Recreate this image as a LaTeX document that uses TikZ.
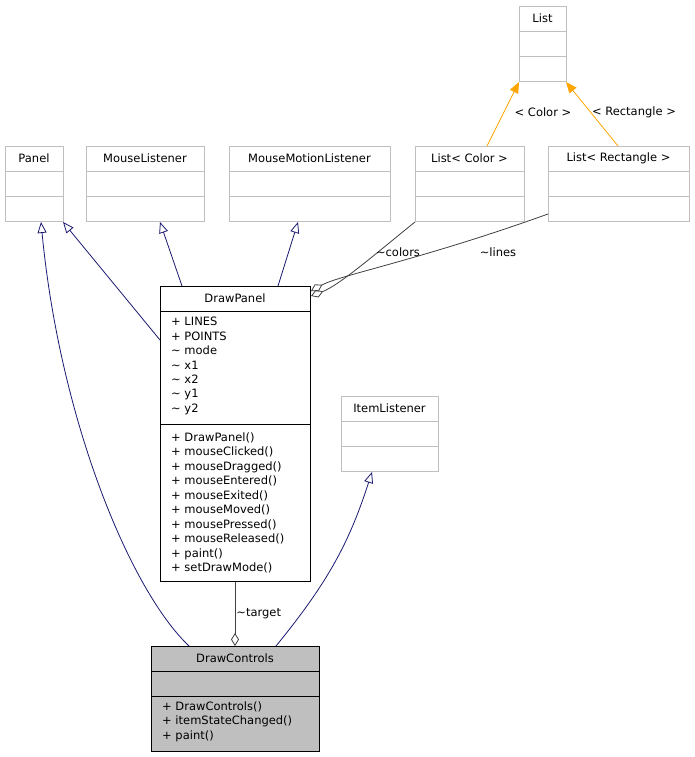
\documentclass[tikz,border=0pt]{standalone}
\usepackage{fontspec}
\setmainfont{DejaVu Sans}
\usetikzlibrary{arrows.meta}
\definecolor{navy}{RGB}{25,25,112}
\definecolor{boxgray}{RGB}{191,191,191}
\definecolor{linegray}{RGB}{191,191,191}
\definecolor{tmplorange}{RGB}{255,165,0}
\newcommand\classbox[7]{% name, x1, y1, x2, y2, title, style
  \node[box,#7,anchor=north west,minimum width={#4pt-#2pt},minimum height={#5pt-#3pt}] (#1) at (#2,#3) {};
  \node (#1-title) at ({(#2+#4)/2},#3+12.5) {#6};
}
\begin{document}
\begin{tikzpicture}[x=1pt,y=-1pt,font=\fontsize{11.5}{14.45}\selectfont,
    box/.style={draw=linegray,inner sep=0pt,line width=0.8pt},
    main/.style={draw=black},
    focus/.style={draw=black,fill=boxgray},
    members/.style={anchor=north west,align=left,inner sep=0pt},
    inherit/.style={draw=navy,line width=0.8pt,-{Triangle[open,length=11pt,width=9pt]}},
    bind/.style={draw=tmplorange,line width=0.8pt,-{Triangle[length=11pt,width=9pt]}},
    usage/.style={draw=black!75,line width=0.8pt,{Diamond[open,length=13pt,width=8pt]}-},
    lbl/.style={inner sep=1pt}
  ]
  \useasboundingbox (0,0) rectangle (695,757);
  % classes
  \classbox{list}{519}{6}{566}{81}{List}{}
  \classbox{panel}{5}{146}{63}{221}{Panel}{}
  \classbox{mouse}{86}{146}{204}{221}{MouseListener}{}
  \classbox{motion}{229}{146}{390}{221}{MouseMotionListener}{}
  \classbox{lcolor}{415}{146}{524}{221}{List< Color >}{}
  \classbox{lrect}{548}{146}{689}{221}{List< Rectangle >}{}
  \classbox{item}{341}{396}{438}{471}{ItemListener}{}
  \classbox{drawpanel}{160}{286}{310}{581}{DrawPanel}{main}
  \classbox{controls}{151}{646}{319}{751}{DrawControls}{focus}
  % compartments
  \foreach \n/\a/\b in {list/31/56,panel/171/196,mouse/171/196,motion/171/196,
      lcolor/171/196,lrect/171/196,item/421/446}
    \draw[linegray,line width=0.8pt] (\n.west|-0,\a) -- (\n.east|-0,\a)
      (\n.west|-0,\b) -- (\n.east|-0,\b);
  \draw (drawpanel.west|-0,311) -- (drawpanel.east|-0,311)
    (drawpanel.west|-0,424) -- (drawpanel.east|-0,424);
  \draw (controls.west|-0,671) -- (controls.east|-0,671)
    (controls.west|-0,696) -- (controls.east|-0,696);
  % members
  \node[members] (dp-attr) at (171,317) {+ LINES\\+ POINTS\\\textasciitilde{} mode\\\textasciitilde{} x1\\\textasciitilde{} x2\\\textasciitilde{} y1\\\textasciitilde{} y2};
  \node[members] (dp-ops) at (171,432.5) {+ DrawPanel()\\+ mouseClicked()\\+ mouseDragged()\\+ mouseEntered()\\+ mouseExited()\\+ mouseMoved()\\+ mousePressed()\\+ mouseReleased()\\+ paint()\\+ setDrawMode()};
  \node[members] (dc-ops) at (162,701.5) {+ DrawControls()\\+ itemStateChanged()\\+ paint()};
  % coordinates on the box borders
  \coordinate (dc-left) at (189,646);
  \coordinate (dc-right) at (276,646);
  \coordinate (dp-side) at (160,340);
  \coordinate (dp-top1) at (182,286);
  \coordinate (dp-top2) at (278,286);
  \coordinate (dp-c) at (311,296);
  \coordinate (dp-r) at (311,291);
  % inheritance
  \draw[inherit] (dc-left) .. controls (130,590) and (60,420) .. (41,222);
  \draw[inherit] (dp-side) -- (63,222);
  \draw[inherit] (dp-top1) -- (160,222);
  \draw[inherit] (dp-top2) -- (298,222);
  \draw[inherit] (dc-right) .. controls (330,580) and (350,540) .. (372,472);
  % associations
  \draw[usage] (235,646) -- (drawpanel.south-|235,0) node[lbl,midway,right] (target-lbl) {\textasciitilde target};
  \draw[usage] (dp-c) .. controls (340,285) and (380,250) .. (415,222);
  \node[lbl] (colors-lbl) at (398,252) {\textasciitilde colors};
  \draw[usage] (dp-r) .. controls (340,275) and (420,260) .. (548,214);
  \node[lbl] (lines-lbl) at (498,252) {\textasciitilde lines};
  % template bindings
  \draw[bind] (487,146) -- (519,82);
  \node[lbl] (color-bind) at (543,112) {< Color >};
  \draw[bind] (618,146) -- (566,82);
  \node[lbl] (rect-bind) at (634,112) {< Rectangle >};
\end{tikzpicture}
\end{document}
